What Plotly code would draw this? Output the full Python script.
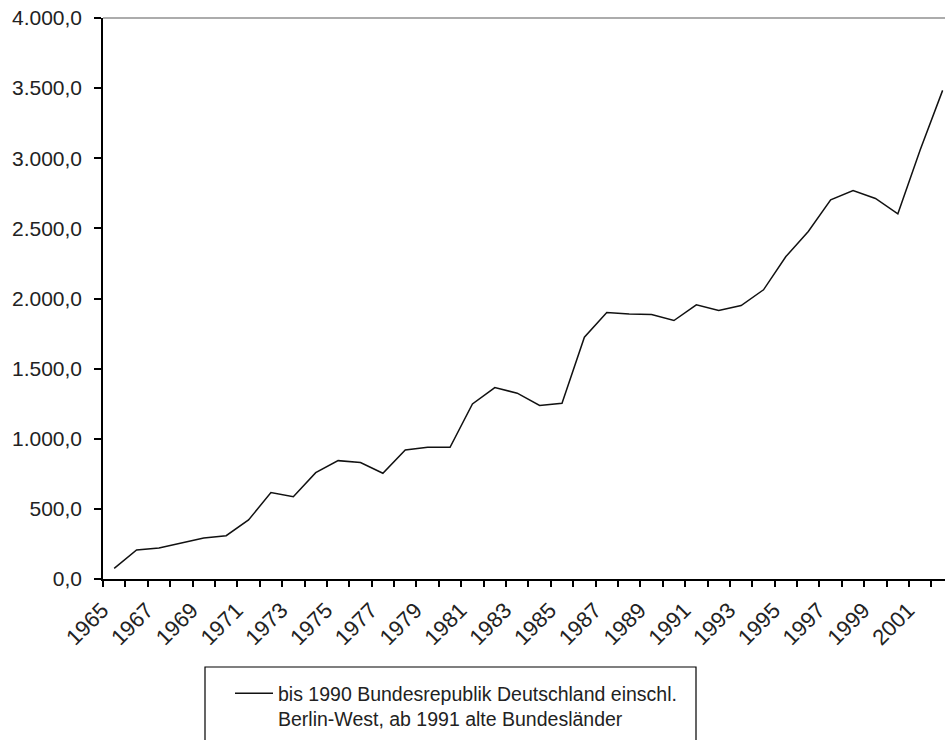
import plotly.graph_objects as go

years = list(range(1965, 2003))
values = [76, 207, 221, 255, 292, 309, 421, 616, 587, 758, 844, 830, 754, 920,
          939, 939, 1248, 1365, 1325, 1237, 1253, 1724, 1900, 1890, 1886, 1843,
          1955, 1914, 1950, 2062, 2299, 2478, 2704, 2770, 2713, 2604, 3060, 3484]
label_years = years[::2]
label_text = [str(y) for y in label_years]
boundaries = [y - 0.5 for y in years] + [years[-1] + 0.5]
series_name = "bis 1990 Bundesrepublik Deutschland einschl.<br>Berlin-West, ab 1991 alte Bundesländer"

W, H = 945, 740
ML, MT, MR = 103, 18, 0
MB = H - 579
plot_w = W - ML - MR
plot_h = H - MT - MB
px_per_year = 22.39
x_end = 1964.5 + plot_w / px_per_year

FONT = "Liberation Sans, Arial, sans-serif"


def px_x(p):
    return (p - ML) / plot_w


def px_y(p):
    return (579 - p) / plot_h


fig = go.Figure()
fig.add_trace(go.Scatter(
    x=years, y=values, mode="lines", name=series_name,
    line=dict(color="#111111", width=1.5), showlegend=True,
))

fig.update_layout(
    width=W, height=H,
    margin=dict(l=ML, r=MR, t=MT, b=MB, pad=0),
    paper_bgcolor="white", plot_bgcolor="white",
    separators=",.",
    font=dict(family=FONT, size=20, color="#222222"),
    showlegend=True,
    legend=dict(
        x=px_x(230), xanchor="left",
        y=px_y(674), yanchor="top",
        bgcolor="rgba(0,0,0,0)", borderwidth=0,
        font=dict(family=FONT, size=19.5, color="#222222"),
        itemwidth=38, valign="top",
    ),
    modebar=dict(bgcolor="rgba(0,0,0,0)", color="rgba(0,0,0,0)",
                 activecolor="rgba(0,0,0,0)"),
    xaxis=dict(
        type="linear", range=[1964.5, x_end],
        tickmode="array", tickvals=label_years, ticktext=label_text,
        ticks="", tickangle=-45,
        ticklabelstandoff=8, ticklabelshift=-12,
        ticklabeloverflow="allow",
        showline=True, linecolor="black", linewidth=1.5,
        showgrid=False, zeroline=False,
        minor=dict(tickmode="array", tickvals=boundaries, ticks="outside",
                   ticklen=6, tickcolor="black", tickwidth=1.5, showgrid=False),
        tickfont=dict(family=FONT, size=22, color="#222222"),
    ),
    yaxis=dict(
        range=[0, 4000], tickmode="linear", tick0=0, dtick=500,
        tickformat=",.1f",
        ticks="outside", ticklen=7, tickcolor="black", tickwidth=1.5,
        showline=True, linecolor="black", linewidth=1.5,
        showgrid=False, zeroline=False,
        ticklabelstandoff=8,
        ticklabeloverflow="allow",
        tickfont=dict(family=FONT, size=21, color="#222222"),
    ),
    shapes=[
        dict(type="line", xref="paper", yref="paper", x0=0, x1=1, y0=1, y1=1,
             line=dict(color="#909090", width=1.5)),
        dict(type="rect", xref="paper", yref="paper",
             x0=px_x(205), x1=px_x(696),
             y0=px_y(667), y1=px_y(790),
             line=dict(color="black", width=1.2), fillcolor="rgba(0,0,0,0)",
             layer="above"),
    ],
)

fig.write_html(
    "out.html",
    config={"displayModeBar": False},
    post_script="document.body.style.margin='0';document.body.style.overflow='hidden';",
)
